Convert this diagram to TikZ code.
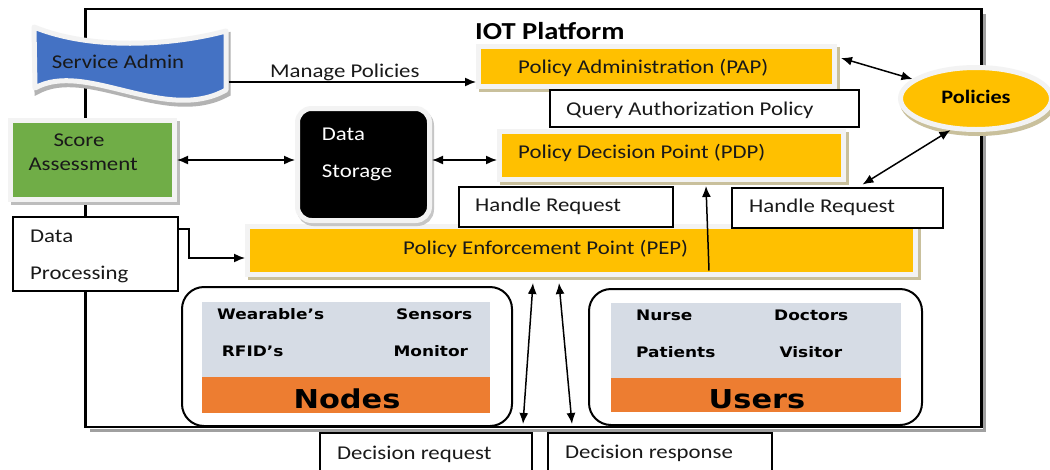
\documentclass[tikz,border=0pt]{standalone}
\usepackage{fontspec}
\setmainfont{Carlito}[FakeStretch=1.17]
\newfontfamily\widefont{DejaVu Sans}[FakeStretch=1.17]
\usetikzlibrary{arrows.meta,shapes.geometric,shadows}

\definecolor{pyellow}{RGB}{255,192,0}
\definecolor{pgreen}{RGB}{112,173,71}
\definecolor{pblue}{RGB}{68,114,196}
\definecolor{porange}{RGB}{237,125,49}
\definecolor{pgrey}{RGB}{214,220,229}
\definecolor{rimgrey}{RGB}{243,243,243}
\definecolor{shadetan}{RGB}{201,192,156}
\definecolor{shadegrey}{RGB}{160,160,160}

\begin{document}
\begin{tikzpicture}[x=1pt,y=-1pt,
  txt/.style={font=\fontsize{19.5pt}{23pt}\selectfont, inner sep=0pt, text=black!90},
  itemtxt/.style={font=\widefont\bfseries\fontsize{14.5pt}{17pt}\selectfont, inner sep=0pt},
  bigtxt/.style={font=\widefont\bfseries\fontsize{26pt}{30pt}\selectfont, inner sep=0pt},
  softbox/.style={rectangle, fill=pyellow, draw=rimgrey, line width=5pt, inner sep=0pt,
    general shadow={shadow xshift=3pt, shadow yshift=-3pt, fill=shadetan, draw=shadetan, line width=5pt}},
  plainbox/.style={rectangle, draw=black, line width=1.6pt, fill=white, inner sep=0pt},
  groupbox/.style={rectangle, draw=black, line width=2pt, rounded corners=22pt, fill=white, inner sep=0pt},
  panel/.style={rectangle, fill=pgrey, inner sep=0pt},
  bar/.style={rectangle, fill=porange, inner sep=0pt},
  arr/.style={-{Latex[length=11pt,width=9pt]}, line width=1.5pt},
  dbl/.style={{Latex[length=11pt,width=9pt]}-{Latex[length=11pt,width=9pt]}, line width=1.5pt},
]
\useasboundingbox (0,0) rectangle (1050,469);
\clip (0,0) rectangle (1050,469);
\fill[white] (0,0) rectangle (1050,469);

% platform frame with its shadow on the right and bottom
\draw[shadegrey, line width=3pt] (984.5,14) -- (984.5,430) -- (90,430);
\node[draw=black, line width=2.5pt, minimum width=896pt, minimum height=418pt, inner sep=0pt] (platform) at (533.5,218) {};
\node[font=\fontsize{24.4pt}{28pt}\selectfont\bfseries, inner sep=0pt, anchor=base west] (title) at (475,39) {IOT Platform};

% service admin banner
\def\wavepath{(34,27) .. controls (90,50) and (170,46) .. (226,31) -- (226,90) .. controls (165,124) and (85,60) .. (35,88) -- cycle}
\fill[shadegrey!80, shift={(2pt,-4pt)}, line width=5pt, draw=shadegrey!80] \wavepath;
\filldraw[fill=pblue, draw=rimgrey, line width=5pt, line join=round] \wavepath;
\node[txt, anchor=base west] (admin) at (51.7,68.3) {Service Admin};
\coordinate (admin-out) at (228.5,82);

% policy boxes
\node[softbox, minimum width=356pt, minimum height=40pt] (pap) at (656.5,66.5) {};
\node[txt, anchor=base west] (pap-t) at (518,73) {Policy Administration (PAP)};

\node[plainbox, minimum width=309pt, minimum height=37pt] (query) at (704.5,108.5) {};
\node[txt, anchor=base west] (query-t) at (566,115) {Query Authorization Policy};

\node[softbox, minimum width=344pt, minimum height=48pt] (pdp) at (671.5,155.5) {};
\node[txt, anchor=base west] (pdp-t) at (518,158) {Policy Decision Point (PDP)};

\node[softbox, minimum width=668pt, minimum height=48pt] (pep) at (581.5,250.5) {};
\node[txt, anchor=base west] (pep-t) at (403,254) {Policy Enforcement Point (PEP)};

\node[plainbox, minimum width=214pt, minimum height=40pt] (handle-l) at (566,207) {};
\node[txt, anchor=base west] (handle-l-t) at (475,211.7) {Handle Request};
\node[plainbox, minimum width=211pt, minimum height=40pt] (handle-r) at (837.5,208) {};
\node[txt, anchor=base west] (handle-r-t) at (749,212) {Handle Request};

% policies store
\node[ellipse, fill=pyellow, draw=rimgrey, line width=5pt, inner sep=0pt,
  minimum width=151pt, minimum height=62pt,
  general shadow={shadow xshift=2pt, shadow yshift=-4pt, fill=shadetan, draw=shadetan, line width=5pt}] (policies) at (976,98.5) {};
\node[font=\fontsize{19pt}{23pt}\selectfont\bfseries, inner sep=0pt, anchor=base] (policies-t) at (976,103.3) {Policies};

% score assessment and data processing
\node[rectangle, fill=pgreen, draw=rimgrey, line width=5pt, inner sep=0pt,
  minimum width=164pt, minimum height=79pt,
  general shadow={shadow xshift=3pt, shadow yshift=-3pt, fill=shadegrey!70, draw=shadegrey!70, line width=5pt}] (score) at (92.5,160) {};
\node[txt, anchor=base west] (score-t1) at (53.3,146.7) {Score};
\node[txt, anchor=base west] (score-t2) at (28.3,170.7) {Assessment};

\node[plainbox, minimum width=165pt, minimum height=74pt] (dp) at (95.5,254) {};
\node[txt, anchor=base west] (dp-t1) at (30,242.3) {Data};
\node[txt, anchor=base west] (dp-t2) at (30,279.3) {Processing};

% data storage
\node[rectangle, rounded corners=14pt, fill=black, draw=rimgrey, line width=5pt, inner sep=0pt,
  minimum width=132pt, minimum height=112pt,
  general shadow={shadow xshift=2pt, shadow yshift=-3pt, fill=shadegrey!60, draw=shadegrey!60, line width=5pt}] (storage) at (363.5,164.5) {};
\node[txt, text=white, anchor=base west] (storage-t1) at (321.7,140) {Data};
\node[txt, text=white, anchor=base west] (storage-t2) at (321.7,177.7) {Storage};

% device and user groups
\node[groupbox, minimum width=330pt, minimum height=139pt] (nodes) at (347,356.5) {};
\node[panel, minimum width=288pt, minimum height=75pt] (nodes-panel) at (346,339.5) {};
\node[bar, minimum width=288pt, minimum height=36pt] (nodes-bar) at (346,395) {};
\node[itemtxt, anchor=base west] (wearables) at (217,319) {Wearable’s};
\node[itemtxt, anchor=base west] (sensors) at (396,319) {Sensors};
\node[itemtxt, anchor=base west] (rfid) at (221.7,356.7) {RFID’s};
\node[itemtxt, anchor=base west] (monitor) at (393.3,356.7) {Monitor};
\node[bigtxt, anchor=base] (nodes-t) at (347,408.3) {Nodes};

\node[groupbox, minimum width=333pt, minimum height=136pt] (users) at (755.5,357) {};
\node[panel, minimum width=290pt, minimum height=75pt] (users-panel) at (756,340.5) {};
\node[bar, minimum width=290pt, minimum height=34pt] (users-bar) at (756,395) {};
\node[itemtxt, anchor=base west] (nurse) at (636,320.7) {Nurse};
\node[itemtxt, anchor=base west] (doctors) at (774,320.7) {Doctors};
\node[itemtxt, anchor=base west] (patients) at (636,357.7) {Patients};
\node[itemtxt, anchor=base west] (visitor) at (779.3,357.7) {Visitor};
\node[bigtxt, anchor=base] (users-t) at (757,408.3) {Users};

% decision messages below the platform
\node[plainbox, minimum width=212pt, minimum height=47pt] (request) at (426,456.5) {};
\node[txt, anchor=base west] (request-t) at (337,459.3) {Decision request};
\node[plainbox, minimum width=224pt, minimum height=47pt] (response) at (660,456.5) {};
\node[txt, anchor=base west] (response-t) at (565,458.3) {Decision response};

% connectors
\draw[arr] (admin-out) -- (admin-out -| pap.west)
  node[txt, pos=0.47, above=0pt] (manage) {Manage Policies};
\draw[dbl] (score.east) -- (score.east -| storage.west);
\draw[dbl] (storage.east |- score.east) -- (pdp.west |- score.east);
\draw[dbl] ([shift={(4pt,8.5pt)}]pap.east) -- (policies.163);
\coordinate (pdp-out) at ([shift={(16.5pt,-2.5pt)}]pdp.south east);
\draw[dbl] (pdp-out) -- (policies.231);
\draw[arr] ([shift={(127.5pt,6.5pt)}]pep.south) -- ([shift={(34.5pt,-4pt)}]pdp.south);
\draw[arr] ([yshift=25pt]dp.east) -- ++(10,0) |- ([yshift=-7.5pt]pep.west);

\coordinate (req-top) at (533,283);
\coordinate (req-bot) at (523,424);
\coordinate (resp-top) at (559,283);
\coordinate (resp-bot) at (572,424);
\draw[dbl] (req-top) -- (req-bot);
\draw[dbl] (resp-top) -- (resp-bot);
\end{tikzpicture}
\end{document}
